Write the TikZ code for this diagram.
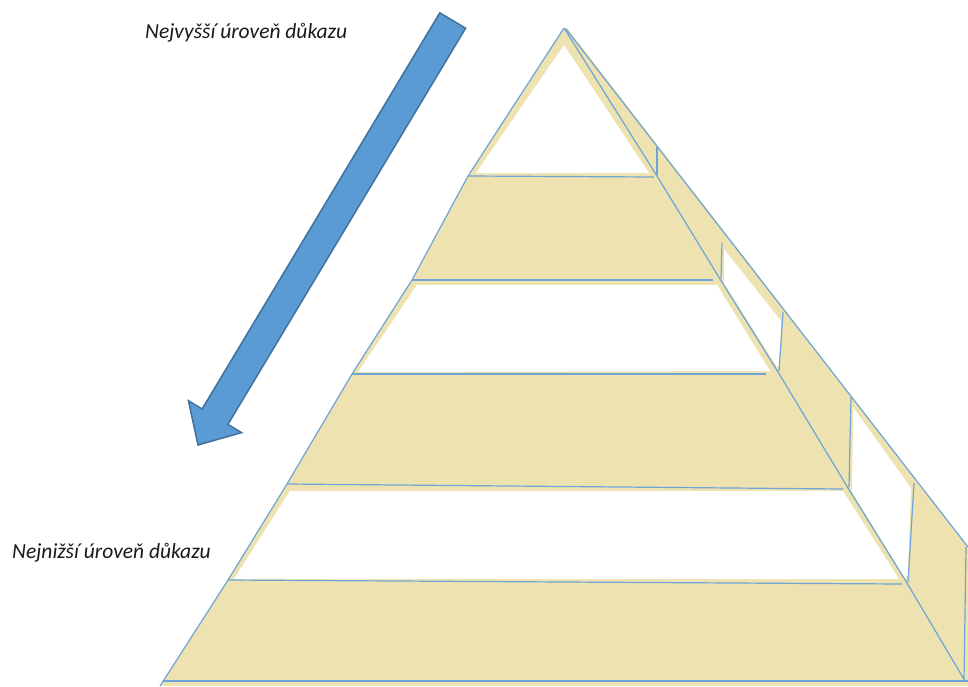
\documentclass[tikz,border=0pt]{standalone}
\usepackage{fontspec}
\setmainfont{Carlito}
\definecolor{beige}{RGB}{237,226,176}
\definecolor{edgeblue}{RGB}{110,165,215}
\definecolor{arrowfill}{RGB}{91,155,213}
\definecolor{arrowline}{RGB}{65,113,156}
\definecolor{txt}{RGB}{25,25,25}
\tikzset{
  edgeline/.style={draw=edgeblue, line width=1.2pt, line join=round},
  beigefill/.style={fill=beige, draw=none},
  whitefill/.style={fill=white, draw=none},
  label/.style={font=\fontsize{21.5}{25}\selectfont\itshape, text=txt, inner sep=0pt, anchor=base west},
  bigarrow/.style={fill=arrowfill, draw=arrowline, line width=1.5pt, line join=miter}
}
\begin{document}
\begin{tikzpicture}[x=1pt, y=-1pt]
\useasboundingbox (0,0) rectangle (968,686);
\clip (0,0) rectangle (968,686);

% base beige body (front + side face)
\path[beigefill] (564,28) -- (468,176) -- (412,280) -- (352,374) -- (287,484) -- (228,580) -- (160,686)
  -- (968,686) -- (968,547) -- (567,28) -- cycle;

% white bands on front face
\path[whitefill] (564,45) -- (476,173) -- (649,173) -- cycle;
\path[whitefill] (417,285) -- (717,285) -- (770,371) -- (358,372) -- cycle;
\path[whitefill] (290,491) -- (843,491) -- (899,579) -- (234,579) -- cycle;

% white panels on side face
\path[whitefill] (724,249) -- (724,283) -- (777,367) -- (780,366) -- (781,321) -- cycle;
\path[whitefill] (853,407) -- (852,492) -- (905,578) -- (908,575) -- (911,488) -- cycle;

% outline of the pyramid
\draw[edgeline] (564,28) -- (468,176) -- (412,280) -- (352,374) -- (287,484) -- (228,580) -- (160,686);
\draw[edgeline] (564,28) -- (657,176) -- (720,279) -- (778,372) -- (848,488) -- (907,583) -- (965,681);
\draw[edgeline] (566,29) -- (968,547);

% band lines
\draw[edgeline] (468,176) -- (654,177);
\draw[edgeline] (412,280) -- (713,280);
\draw[edgeline] (352,374) -- (766,374);
\draw[edgeline] (287,484) -- (843,489);
\draw[edgeline] (228,580) -- (902,584);
\draw[edgeline] (163,681) -- (968,681);

% verticals on the side face
\draw[edgeline] (657,147) -- (657,175);
\draw[edgeline] (722,243) -- (721,278);
\draw[edgeline] (783,312) -- (779,371);
\draw[edgeline] (851,397) -- (849,487);
\draw[edgeline] (914,483) -- (908,582);
\draw[edgeline] (966,547) -- (964,680);

% arrow
\path[bigarrow] (198,445) -- (241.6,432.6) -- (227.9,424.4) -- (465.6,28.2)
  -- (439.8,12.8) -- (202.1,409) -- (188.4,400.7) -- cycle;

% labels
\node[label] (top) at (145,38) {Nejvyšší úroveň důkazu};
\node[label] (bottom) at (12,558) {Nejnižší úroveň důkazu};
\end{tikzpicture}
\end{document}
